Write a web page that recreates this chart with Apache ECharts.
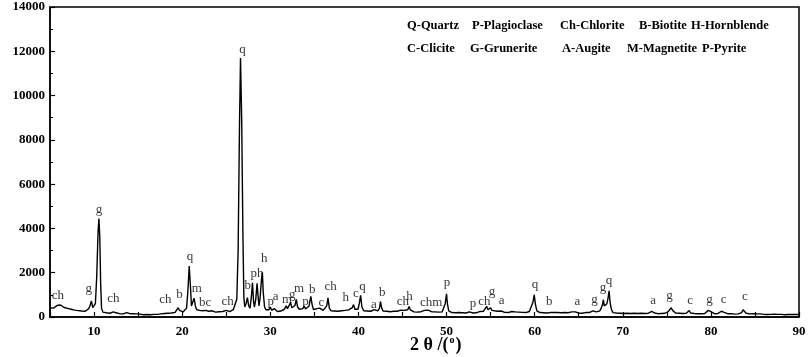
<!DOCTYPE html>
<html>
<head>
<meta charset="utf-8">
<script src="https://cdn.jsdelivr.net/npm/echarts@6/dist/echarts.min.js"></script>
<style>
  html, body { margin: 0; padding: 0; background: #fff; }
  #xrd { width: 809px; height: 357px; }
</style>
</head>
<body>
<div id="xrd"></div>
<script>
// XRD pattern, [2theta, counts]
const pattern = [
  [5.0,420],[5.2,450],[5.4,400],[5.6,470],[5.8,520],[6.0,480],[6.2,540],[6.4,470],[6.6,430],[6.8,380],
  [7.0,390],[7.2,330],[7.4,350],[7.6,300],[7.8,310],[8.0,270],[8.2,290],[8.4,250],[8.6,270],[8.8,240],
  [9.0,260],[9.2,300],[9.4,380],[9.55,520],[9.7,720],[9.85,420],[10.0,330],[10.15,600],[10.3,1800],
  [10.45,3800],[10.55,4450],[10.65,3600],[10.75,1500],[10.85,400],[11.0,220],[11.2,170],[11.4,190],
  [11.6,150],[11.8,170],[12.0,160],[12.2,230],[12.35,270],[12.5,190],[12.7,160],[12.9,150],[13.1,170],
  [13.3,140],[13.5,160],[13.7,200],[13.85,260],[14.0,160],[14.2,130],[14.4,150],[14.6,120],[14.8,140],
  [15.0,110],[15.2,130],[15.4,120],[15.6,100],[15.8,130],[16.0,110],[16.2,120],[16.4,100],[16.6,130],
  [16.8,120],[17.0,140],[17.2,120],[17.4,150],[17.6,140],[17.8,170],[18.0,160],[18.2,190],[18.4,170],
  [18.6,200],[18.8,180],[19.0,220],[19.2,210],[19.4,280],[19.55,420],[19.7,300],[19.9,240],[20.1,230],
  [20.3,260],[20.5,400],[20.65,1200],[20.8,2300],[20.95,1300],[21.05,500],[21.2,420],[21.35,850],
  [21.5,500],[21.65,330],[21.8,260],[22.0,300],[22.15,370],[22.3,280],[22.5,250],[22.7,300],[22.85,340],
  [23.0,260],[23.2,230],[23.4,280],[23.6,240],[23.8,220],[24.0,270],[24.2,240],[24.4,310],[24.6,250],
  [24.8,230],[25.0,300],[25.2,260],[25.4,240],[25.6,280],[25.8,330],[26.0,420],[26.2,800],[26.35,3000],
  [26.5,8500],[26.62,11700],[26.75,9000],[26.9,3500],[27.0,900],[27.1,450],[27.25,600],[27.4,870],
  [27.55,500],[27.7,400],[27.85,900],[27.98,1550],[28.1,700],[28.2,450],[28.35,800],[28.5,1520],
  [28.62,900],[28.72,500],[28.85,900],[29.0,1700],[29.1,2020],[29.2,1100],[29.35,450],[29.5,330],
  [29.7,280],[29.85,330],[30.0,450],[30.15,300],[30.3,260],[30.45,380],[30.6,300],[30.8,250],[31.0,320],
  [31.2,270],[31.4,300],[31.6,350],[31.8,500],[31.95,380],[32.1,400],[32.3,650],[32.45,420],[32.6,380],
  [32.8,520],[32.95,800],[33.1,450],[33.3,350],[33.5,300],[33.7,380],[33.85,500],[34.0,360],[34.2,330],
  [34.4,500],[34.6,930],[34.75,550],[34.9,340],[35.1,300],[35.3,380],[35.45,330],[35.6,400],[35.8,330],
  [36.0,300],[36.2,330],[36.4,500],[36.55,860],[36.7,400],[36.9,280],[37.1,250],[37.3,270],[37.5,230],
  [37.7,260],[37.9,240],[38.1,280],[38.3,260],[38.5,300],[38.7,270],[38.9,320],[39.1,350],[39.3,420],
  [39.45,560],[39.6,350],[39.8,300],[39.95,350],[40.1,600],[40.25,980],[40.4,450],[40.6,280],[40.8,250],
  [41.0,270],[41.2,230],[41.4,260],[41.6,300],[41.8,330],[42.0,270],[42.2,280],[42.4,400],[42.5,700],
  [42.65,400],[42.8,270],[43.0,240],[43.2,260],[43.4,220],[43.6,240],[43.8,230],[44.0,260],[44.2,280],
  [44.4,260],[44.6,340],[44.8,310],[45.0,280],[45.2,300],[45.4,270],[45.6,330],[45.75,470],[45.9,320],
  [46.1,260],[46.3,230],[46.5,250],[46.7,220],[46.9,260],[47.1,240],[47.3,270],[47.5,300],[47.7,260],
  [47.9,310],[48.1,270],[48.3,240],[48.5,260],[48.7,230],[48.9,250],[49.1,220],[49.3,240],[49.5,230],
  [49.7,300],[49.85,600],[50.0,1050],[50.1,600],[50.25,280],[50.4,230],[50.6,200],[50.8,220],[51.0,190],
  [51.2,230],[51.4,200],[51.6,220],[51.8,190],[52.0,210],[52.2,180],[52.4,200],[52.6,230],[52.8,200],
  [53.0,180],[53.2,210],[53.4,190],[53.6,220],[53.8,250],[54.0,230],[54.2,260],[54.4,320],[54.55,480],
  [54.7,330],[54.85,380],[55.0,420],[55.15,300],[55.3,350],[55.45,280],[55.6,240],[55.8,260],[56.0,230],
  [56.2,270],[56.4,240],[56.6,210],[56.8,230],[57.0,200],[57.2,220],[57.4,250],[57.6,210],[57.8,230],
  [58.0,200],[58.2,220],[58.4,190],[58.6,210],[58.8,230],[59.0,200],[59.2,220],[59.4,250],[59.6,330],
  [59.8,650],[59.95,1000],[60.1,550],[60.25,280],[60.4,220],[60.6,200],[60.8,230],[61.0,190],[61.2,210],
  [61.4,180],[61.6,220],[61.8,200],[62.0,190],[62.2,210],[62.4,180],[62.6,200],[62.8,170],[63.0,190],
  [63.2,170],[63.4,200],[63.6,180],[63.8,190],[64.0,210],[64.2,230],[64.4,260],[64.6,230],[64.8,200],
  [65.0,180],[65.2,200],[65.4,170],[65.6,190],[65.8,200],[66.0,220],[66.2,200],[66.4,240],[66.6,280],
  [66.8,240],[67.0,230],[67.2,260],[67.4,280],[67.55,400],[67.7,560],[67.8,780],[67.9,500],[68.05,420],
  [68.2,600],[68.35,900],[68.45,1180],[68.55,700],[68.65,450],[68.75,300],[68.9,200],[69.1,160],
  [69.3,180],[69.5,150],[69.7,170],[69.9,140],[70.1,160],[70.3,150],[70.5,170],[70.7,140],[70.9,160],
  [71.1,150],[71.3,170],[71.5,140],[71.7,160],[71.9,150],[72.1,170],[72.3,150],[72.5,160],[72.7,140],
  [72.9,170],[73.1,180],[73.3,250],[73.45,230],[73.6,180],[73.8,170],[74.0,150],[74.2,170],[74.4,160],
  [74.6,180],[74.8,170],[75.0,200],[75.2,260],[75.35,330],[75.5,420],[75.65,300],[75.8,220],[76.0,180],
  [76.2,160],[76.4,170],[76.6,150],[76.8,160],[77.0,140],[77.2,170],[77.4,200],[77.55,290],[77.7,180],
  [77.9,150],[78.1,160],[78.3,140],[78.5,150],[78.7,130],[78.9,150],[79.1,140],[79.3,160],[79.5,210],
  [79.7,300],[79.85,360],[80.0,240],[80.2,170],[80.4,150],[80.6,140],[80.8,160],[81.0,200],[81.2,260],
  [81.35,290],[81.5,210],[81.7,160],[81.9,150],[82.1,130],[82.3,150],[82.5,140],[82.7,130],[82.9,150],
  [83.1,140],[83.3,150],[83.5,200],[83.65,330],[83.8,240],[84.0,170],[84.2,150],[84.4,140],[84.6,130],
  [84.8,150],[85.0,130],[85.2,140],[85.4,120],[85.6,140],[85.8,130],[86.0,120],[86.2,140],[86.4,110],
  [86.6,130],[86.8,120],[87.0,110],[87.2,130],[87.4,110],[87.6,120],[87.8,100],[88.0,120],[88.2,110],
  [88.4,100],[88.6,120],[88.8,110],[89.0,100],[89.2,120],[89.4,100],[89.6,110],[89.8,100],[90.0,110]
];

// mineral marks over the peaks: [2theta, counts, text]
const peakLabels = [
  [5.9,970,'ch'],[9.4,1270,'g'],[10.56,4840,'g'],[12.2,820,'ch'],[18.1,790,'ch'],[19.7,1000,'b'],
  [20.9,2720,'q'],[21.65,1270,'m'],[22.6,640,'bc'],[25.15,700,'ch'],[26.85,12060,'q'],[27.45,1420,'b'],
  [28.5,1960,'ph'],[29.3,2630,'h'],[30.05,710,'p'],[30.6,930,'a'],[31.9,790,'m'],[32.5,1010,'g'],
  [33.25,1270,'m'],[34.0,710,'p'],[34.75,1240,'b'],[35.8,670,'c'],[36.85,1360,'ch'],[38.55,860,'h'],
  [39.7,1060,'c'],[40.45,1390,'q'],[41.75,560,'a'],[42.7,1090,'b'],[45.05,710,'ch'],[45.8,940,'h'],
  [48.25,670,'chm'],[50.05,1540,'p'],[53.0,600,'p'],[54.3,710,'ch'],[55.15,1160,'g'],[56.25,750,'a'],
  [60.05,1470,'q'],[61.65,710,'b'],[64.85,710,'a'],[66.8,790,'g'],[67.75,1320,'g'],[68.45,1660,'q'],
  [73.45,740,'a'],[75.3,970,'g'],[77.65,740,'c'],[79.85,790,'g'],[81.45,790,'c'],[83.85,940,'c']
];

const xTicks = [10, 20, 30, 40, 50, 60, 70, 80, 90];
const legendLine1 = ['Q-Quartz', 'P-Plagioclase', 'Ch-Chlorite', 'B-Biotite', 'H-Hornblende'];
const legendLine2 = ['C-Clicite', 'G-Grunerite', 'A-Augite', 'M-Magnetite', 'P-Pyrite'];

const serif = '"Liberation Serif", "DejaVu Serif", serif';
const chart = echarts.init(document.getElementById('xrd'));

// key text in the upper right corner
const line1X = [407, 472, 560, 639, 691];
const line2X = [407, 470, 562, 627, 702];
const graphics = [];
legendLine1.forEach((t, i) => {
  graphics.push({ type: 'text', left: line1X[i], top: 19,
    style: { text: t, font: 'bold 12.5px ' + serif, fill: '#000' } });
});
legendLine2.forEach((t, i) => {
  graphics.push({ type: 'text', left: line2X[i], top: 42,
    style: { text: t, font: 'bold 12.5px ' + serif, fill: '#000' } });
});
// x axis title
graphics.push({
  type: 'text', left: 410, top: 335,
  style: {
    text: '{a|2 \u03b8 /(}{s|o}{a|)}',
    rich: {
      a: { font: 'bold 18px ' + serif, fill: '#000' },
      s: { font: 'bold 10px ' + serif, fill: '#000', verticalAlign: 'top', padding: [0, 1, 10, 1] }
    }
  }
});

const option = {
  animation: false,
  grid: {
    left: 50, right: 10, top: 7, bottom: 40,
    outerBoundsMode: 'none',
    containLabel: false,
    show: true, borderColor: '#000', borderWidth: 1.5, backgroundColor: 'transparent'
  },
  xAxis: {
    type: 'value',
    min: 5,
    max: 90,
    interval: 5,
    axisLine: { onZero: false, lineStyle: { color: '#000', width: 1.5 } },
    axisTick: { inside: true, length: 5, lineStyle: { color: '#000', width: 1.2 } },
    splitLine: { show: false },
    axisLabel: {
      color: '#000', fontFamily: serif, fontWeight: 'bold', fontSize: 13, margin: 8,
      formatter: v => (xTicks.indexOf(v) >= 0 ? String(v) : '')
    }
  },
  yAxis: {
    type: 'value',
    min: 0,
    max: 14000,
    interval: 2000,
    name: 'CPS',
    nameLocation: 'middle',
    nameGap: 36,
    nameTextStyle: { color: '#000', fontFamily: serif, fontWeight: 'bold', fontSize: 16 },
    axisLine: { show: true, lineStyle: { color: '#000', width: 1.5 } },
    axisTick: { inside: true, length: 5, lineStyle: { color: '#000', width: 1.2 } },
    minorTick: { show: true, splitNumber: 2, length: 3, lineStyle: { color: '#000' } },
    splitLine: { show: false },
    axisLabel: {
      color: '#000', fontFamily: serif, fontWeight: 'bold', fontSize: 13, margin: 5,
      formatter: v => String(v)
    }
  },
  graphic: graphics,
  series: [
    {
      type: 'line',
      data: pattern,
      showSymbol: false,
      silent: true,
      lineStyle: { color: '#000', width: 1.4 }
    },
    {
      type: 'scatter',
      data: peakLabels,
      symbolSize: 0,
      silent: true,
      label: {
        show: true,
        position: 'inside',
        color: '#000',
        fontFamily: serif,
        fontSize: 13,
        formatter: p => p.data[2]
      }
    }
  ]
};

chart.setOption(option);
</script>
</body>
</html>
